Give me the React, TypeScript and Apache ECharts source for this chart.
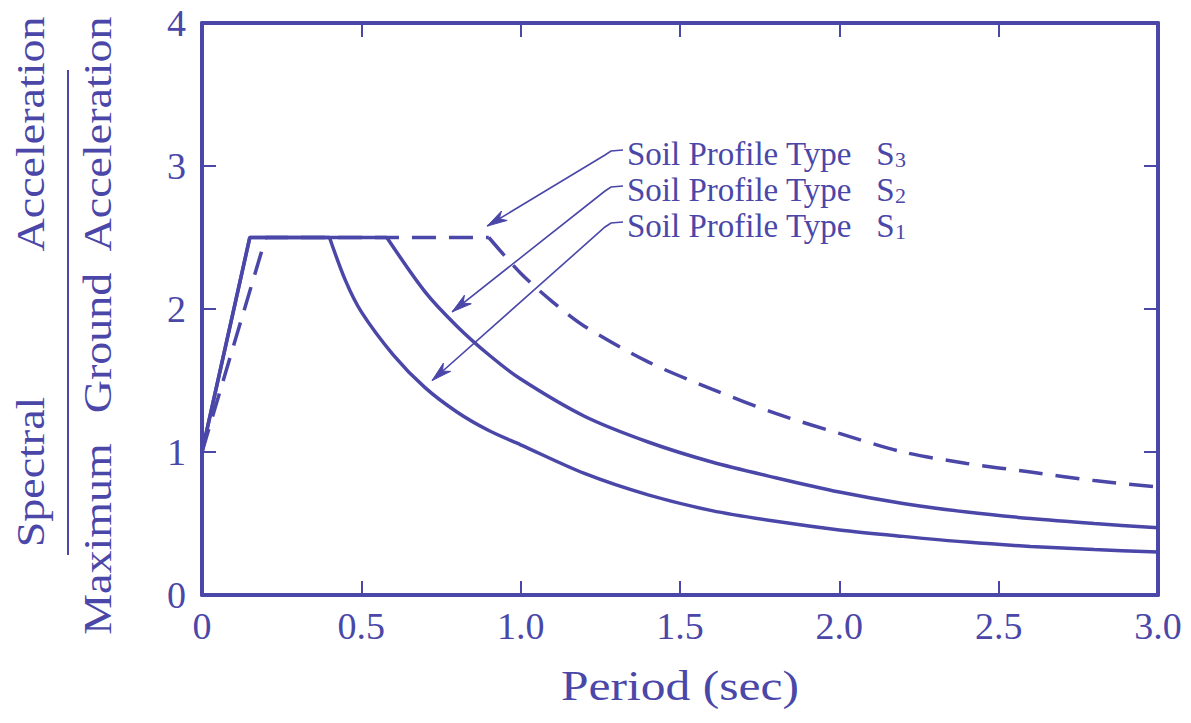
import React, { useEffect, useRef } from 'react';
import * as echarts from 'echarts';

// ---- data ----
const periodS1 = [0, 0.15, 0.4, 0.45, 0.5, 0.6, 0.7, 0.8, 0.9, 1.0, 1.2, 1.4, 1.6, 1.8, 2.0, 2.2, 2.4, 2.6, 2.8, 3.0];
const ratioS1 = [1.0, 2.5, 2.5, 2.2, 1.98, 1.68, 1.45, 1.28, 1.15, 1.05, 0.85, 0.7, 0.59, 0.515, 0.455, 0.41, 0.37, 0.34, 0.318, 0.3];

const periodS2 = [0, 0.15, 0.58, 0.7, 0.8, 0.9, 1.0, 1.2, 1.4, 1.6, 1.8, 2.0, 2.2, 2.4, 2.6, 2.8, 3.0];
const ratioS2 = [1.0, 2.5, 2.5, 2.12, 1.88, 1.68, 1.51, 1.25, 1.07, 0.93, 0.82, 0.72, 0.64, 0.58, 0.535, 0.5, 0.47];

const periodS3 = [0, 0.2, 0.9, 1.0, 1.1, 1.2, 1.4, 1.6, 1.8, 2.0, 2.2, 2.4, 2.6, 2.8, 3.0];
const ratioS3 = [1.0, 2.5, 2.5, 2.25, 2.05, 1.88, 1.63, 1.44, 1.27, 1.13, 1.0, 0.92, 0.86, 0.8, 0.755];

const xTickLabels = ['0', '0.5', '1.0', '1.5', '2.0', '2.5', '3.0'];
const yTickLabels = ['0', '1', '2', '3', '4'];

const annoSub = ['3', '2', '1'];
const annoPeriod = [0.895, 0.785, 0.722];
const annoRatio = [2.58, 1.98, 1.5];

const FONT = '"Liberation Serif", "Times New Roman", serif';
const INK = '#4a47a8';

const pairs = (xs: number[], ys: number[]) => xs.map((x, i) => [x, ys[i]]);

export default function App() {
  const ref = useRef<HTMLDivElement>(null);
  useEffect(() => {
    document.body.style.margin = '0';
    const chart = echarts.init(ref.current!, null, { renderer: 'svg' });
    const axisLine = { show: true, onZero: false, lineStyle: { color: INK, width: 4 } };
    const tick = { show: true, inside: true, length: 14, lineStyle: { color: INK, width: 2 } };
    const xLabel = {
      fontSize: 38, fontFamily: FONT, color: INK, margin: 12,
      formatter: (v: number) => xTickLabels[Math.round(v * 2)] ?? '',
    };
    const yLabel = {
      fontSize: 38, fontFamily: FONT, color: INK, margin: 16,
      formatter: (v: number) => yTickLabels[Math.round(v)] ?? '',
    };
    const solid = { color: INK, width: 3.5 };
    const dashed = { color: INK, width: 3.5, type: [24, 13] };
    const mk = (name: string, xs: number[], ys: number[], style: any) => {
      const all = pairs(xs, ys);
      return [
        { name, type: 'line', data: all.slice(0, 3), showSymbol: false, lineStyle: style, z: 3 },
        { name, type: 'line', data: all.slice(2), showSymbol: false, smooth: 0.3, lineStyle: style, z: 3 },
      ];
    };
    chart.setOption({
      animation: false,
      grid: { left: 202, right: 33, top: 23, bottom: 128 },
      xAxis: [
        { type: 'value', min: 0, max: 3, interval: 0.5, position: 'bottom', axisLine, axisTick: tick, axisLabel: xLabel, splitLine: { show: false } },
        { type: 'value', min: 0, max: 3, interval: 0.5, position: 'top', axisLine, axisTick: tick, axisLabel: { show: false }, splitLine: { show: false } },
      ],
      yAxis: [
        { type: 'value', min: 0, max: 4, interval: 1, position: 'left', axisLine, axisTick: tick, axisLabel: yLabel, splitLine: { show: false } },
        { type: 'value', min: 0, max: 4, interval: 1, position: 'right', axisLine, axisTick: tick, axisLabel: { show: false }, splitLine: { show: false } },
      ],
      series: [
        ...mk('Soil Profile Type S1', periodS1, ratioS1, solid),
        ...mk('Soil Profile Type S2', periodS2, ratioS2, solid),
        ...mk('Soil Profile Type S3', periodS3, ratioS3, dashed),
      ],
    });

    const graphics: any[] = [];
    const titleStyle = (text: string, size: number) => ({
      text, fontSize: size, fontFamily: FONT, fill: INK, textAlign: 'center', textVerticalAlign: 'middle', verticalAlign: 'middle',
    });
    const vText = (text: string, x: number, y: number) => ({
      type: 'text', x, y, rotation: Math.PI / 2, scaleX: 1.15, style: titleStyle(text, 40),
    });
    graphics.push(vText('Spectral', 31, 472));
    graphics.push(vText('Acceleration', 31, 134));
    graphics.push({ type: 'line', shape: { x1: 68, y1: 70, x2: 68, y2: 555 }, style: { stroke: INK, lineWidth: 2 } });
    graphics.push(vText('Acceleration', 98, 134));
    graphics.push(vText('Ground', 98, 343));
    graphics.push(vText('Maximum', 98, 539));
    graphics.push({ type: 'text', x: 680, y: 686, scaleX: 1.18, style: titleStyle('Period (sec)', 42) });

    const rowY = [150, 186, 222];
    const textX = 627;
    annoSub.forEach((sub, i) => {
      const tip = chart.convertToPixel({ xAxisIndex: 0, yAxisIndex: 0 }, [annoPeriod[i], annoRatio[i]]) as number[];
      const ry = rowY[i];
      const top = [textX - 22, ry + 5];
      graphics.push({
        type: 'polyline',
        shape: { points: [tip, top, [textX - 16, ry + 1], [textX - 4, ry]] },
        style: { stroke: INK, lineWidth: 1.6, fill: null },
      });
      const dx = tip[0] - top[0], dy = tip[1] - top[1];
      const len = Math.hypot(dx, dy);
      const ux = dx / len, uy = dy / len;
      const nx = -uy, ny = ux;
      const L = 20, W = 11;
      graphics.push({
        type: 'polygon',
        shape: {
          points: [
            tip,
            [tip[0] - ux * L + nx * W / 2, tip[1] - uy * L + ny * W / 2],
            [tip[0] - ux * L * 0.7, tip[1] - uy * L * 0.7],
            [tip[0] - ux * L - nx * W / 2, tip[1] - uy * L - ny * W / 2],
          ],
        },
        style: { fill: INK, stroke: INK, lineWidth: 1 },
      });
      graphics.push({
        type: 'text', x: textX, y: ry,
        style: {
          text: `{a|Soil Profile Type   S}{b|${sub}}`,
          textVerticalAlign: 'middle', verticalAlign: 'middle',
          rich: {
            a: { fontSize: 33, fontFamily: FONT, fill: INK, color: INK, lineHeight: 40, verticalAlign: 'bottom' },
            b: { fontSize: 22, fontFamily: FONT, fill: INK, color: INK, lineHeight: 18, verticalAlign: 'bottom' },
          },
        },
      });
    });
    chart.setOption({ graphic: graphics });
    return () => chart.dispose();
  }, []);
  return <div ref={ref} style={{ width: 1191, height: 723, background: '#fff' }} />;
}
